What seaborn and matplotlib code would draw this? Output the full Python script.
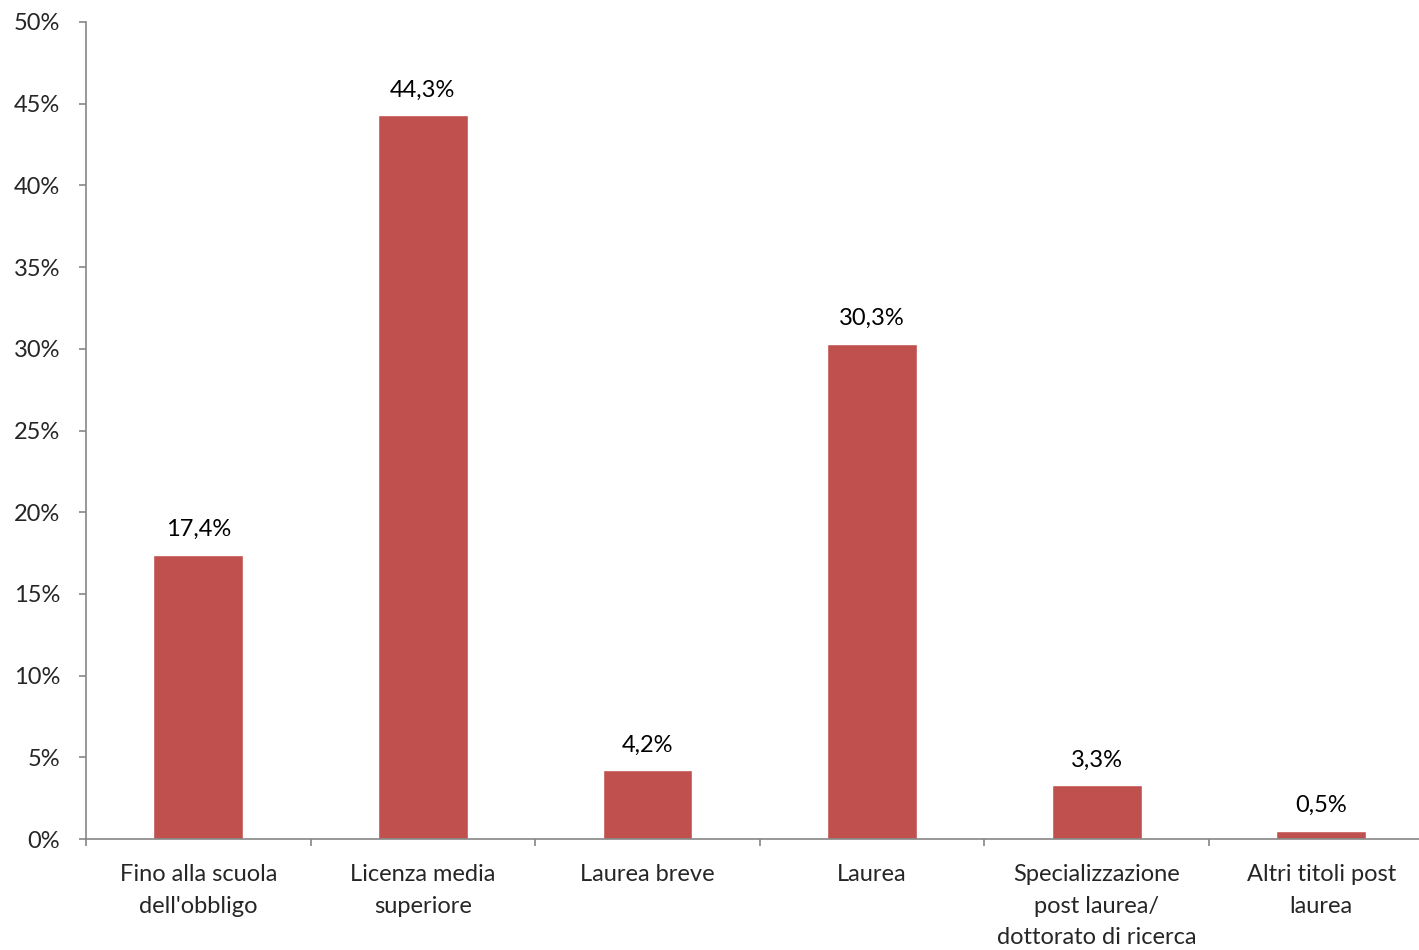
import numpy as np
import pandas as pd
import matplotlib
matplotlib.use('Agg')
import matplotlib.pyplot as plt
import seaborn as sns

categories = ["Fino alla scuola\ndell'obbligo", "Licenza media\nsuperiore", "Laurea breve",
              "Laurea", "Specializzazione\npost laurea/\ndottorato di ricerca",
              "Altri titoli post\nlaurea"]
values = [17.4, 44.3, 4.2, 30.3, 3.3, 0.5]
yticks = [0, 5, 10, 15, 20, 25, 30, 35, 40, 45, 50]

sns.set_style('white')
plt.rcParams['font.family'] = ['Lato', 'DejaVu Sans']
fs = 17

df = pd.DataFrame({'cat': categories, 'val': values})

fig = plt.figure(figsize=(14.19, 9.5), dpi=100)
ax = fig.add_axes([86 / 1419, 111 / 950, 1347.6 / 1419, 817 / 950])
sns.barplot(data=df, x='cat', y='val', color='#C0504D', width=0.4, saturation=1, ax=ax)

# etichette sopra le barre, con la virgola decimale
for i, v in enumerate(values):
    ax.text(i, v + 0.9, f'{v:.1f}%'.replace('.', ','), ha='center', va='bottom', fontsize=fs, color='black')

ax.set_xlim(-0.5, len(categories) - 0.5)
ax.set_ylim(0, 50)
ax.set_yticks(yticks)
ax.set_yticklabels([f'{t}%' for t in yticks], fontsize=fs)
ax.set_xticks(range(len(categories)))
ax.set_xticklabels(categories, fontsize=fs, linespacing=1.63, va='top')
ax.set_xticks(np.arange(-0.5, len(categories), 1), minor=True)
ax.tick_params(axis='x', which='major', bottom=True, length=0, pad=18)
ax.tick_params(axis='x', which='minor', bottom=True, length=5, color='#868686', width=1.2, direction='out')
ax.tick_params(axis='y', left=True, length=5, color='#868686', width=1.2, direction='out', pad=13.5)
ax.set_xlabel('')
ax.set_ylabel('')
sns.despine(ax=ax, top=True, right=True)
for s in ['left', 'bottom']:
    ax.spines[s].set_color('#868686')
    ax.spines[s].set_linewidth(1.2)

fig.savefig('out.png', dpi=100)
